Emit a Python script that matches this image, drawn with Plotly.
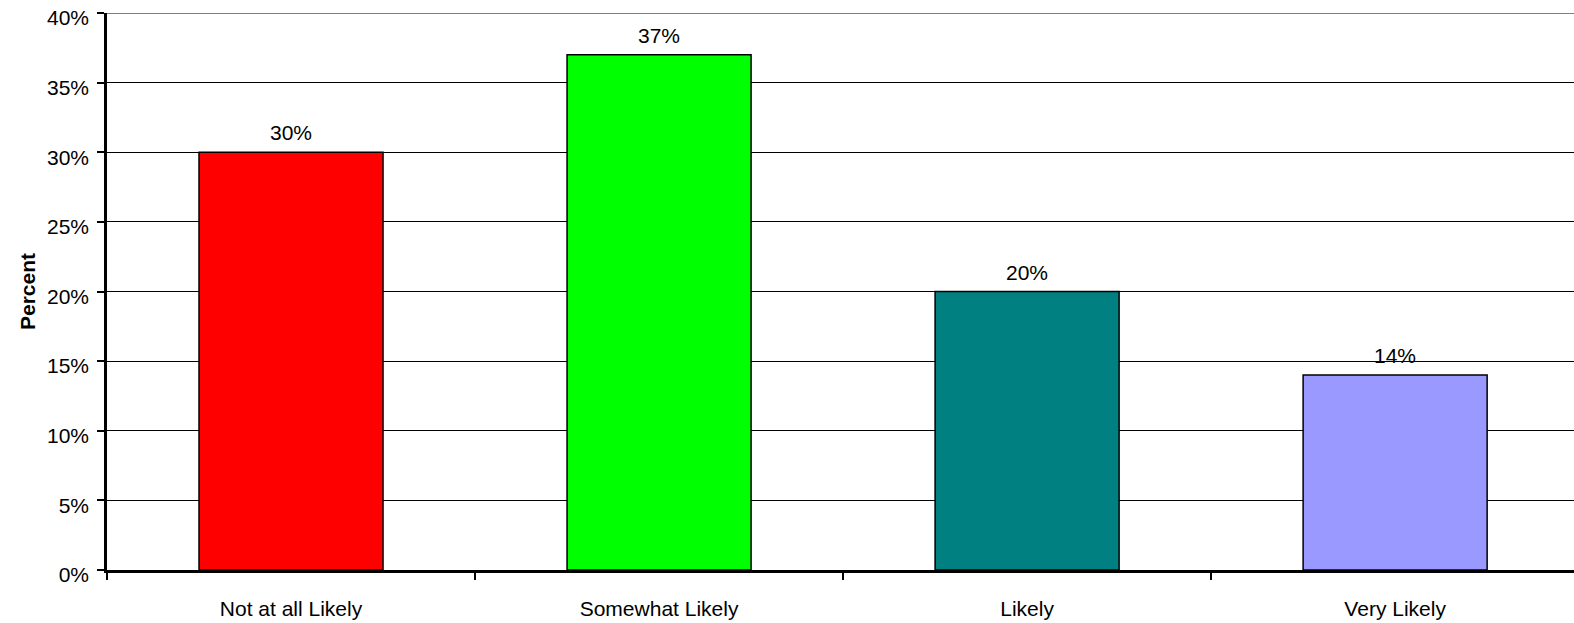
import plotly.graph_objects as go

# Survey response distribution
categories = ["Not at all Likely", "Somewhat Likely", "Likely", "Very Likely"]
percent = [30, 37, 20, 14]
bar_colors = ["#FF0000", "#00FF00", "#008080", "#9999FF"]
y_ticks = [0, 5, 10, 15, 20, 25, 30, 35, 40]
y_tick_labels = [f"{v}%" for v in y_ticks]

FONT = "Liberation Sans, Arial, sans-serif"
SIZE = 21

fig = go.Figure(
    go.Bar(
        x=categories,
        y=percent,
        marker=dict(color=bar_colors, line=dict(color="black", width=1.5)),
        hoverinfo="x+y",
    )
)

# value labels above each bar
for cat, val in zip(categories, percent):
    fig.add_annotation(
        x=cat, y=val, text=f"{val}%", showarrow=False,
        yanchor="bottom", yshift=6,
        font=dict(family=FONT, size=SIZE, color="black"),
    )

# top gridline along the upper edge of the plot area
fig.add_shape(
    type="line", xref="paper", x0=0, x1=1, yref="y", y0=y_ticks[-1], y1=y_ticks[-1],
    line=dict(color="black", width=1), layer="below",
)

fig.update_layout(
    width=1574, height=623,
    margin=dict(l=107, r=0, t=13, b=53),
    paper_bgcolor="white", plot_bgcolor="white",
    bargap=0.5,
    showlegend=False,
    font=dict(family=FONT, size=SIZE, color="black"),
)

fig.update_xaxes(
    type="category",
    range=[-0.5, 3.486],
    tickson="boundaries",
    ticks="outside", ticklen=7, tickwidth=1.5, tickcolor="black",
    showline=True, linecolor="black", linewidth=2.5,
    showgrid=False,
    tickfont=dict(family=FONT, size=SIZE, color="black"),
    ticklabelstandoff=18,
)

fig.update_yaxes(
    range=[0, 40],
    tickvals=y_ticks, ticktext=y_tick_labels,
    ticks="outside", ticklen=7, tickwidth=1.5, tickcolor="black",
    showline=True, linecolor="black", linewidth=2.5,
    showgrid=True, gridcolor="black", gridwidth=1,
    zeroline=False,
    tickfont=dict(family=FONT, size=SIZE, color="black"),
    ticklabelstandoff=4,
    ticklabelshift=5,
    title=dict(text="<b>Percent</b>", font=dict(family=FONT, size=SIZE, color="black"), standoff=6),
)

fig.write_html("out.html")
